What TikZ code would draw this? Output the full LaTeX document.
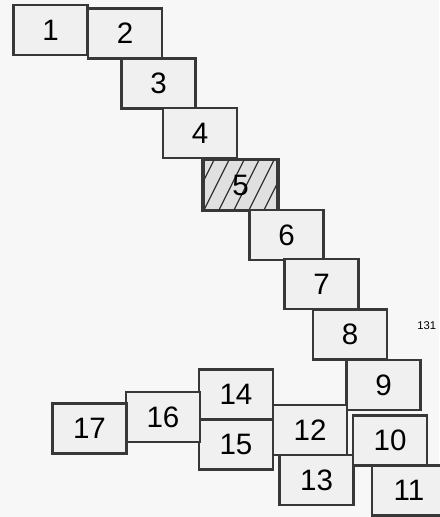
\documentclass[tikz,border=0pt]{standalone}
\usepackage{fontspec}
\setmainfont{Liberation Sans}
\tikzset{
  cell/.style={draw=black!78,fill=black!6,line width=1.6pt,minimum width=1.85cm,minimum height=1.25cm,inner sep=0pt,font=\fontsize{21}{23}\selectfont},
  hatchline/.style={black!80,line width=0.9pt}
}
\begin{document}
\begin{tikzpicture}[x=0.025cm,y=-0.025cm]
\fill[black!3] (0,0) rectangle (439,517);
\useasboundingbox (0,0) rectangle (439,517);
\node[cell] (n1) at (50.5,30) {1};
\node[cell] (n2) at (125,33.5) {2};
\node[cell] (n3) at (158.5,83.5) {3};
\node[cell] (n4) at (200,133) {4};
\node[cell,fill=black!12] (n5) at (240.5,185) {};
\begin{scope}
\clip (n5.south west) rectangle (n5.north east);
\foreach \i in {-30,-15,...,90}
  \draw[hatchline] (203+\i,212) -- ++(28,-56);
\end{scope}
\draw[black!78,line width=1.6pt] (n5.south west) rectangle (n5.north east);
\node[font=\fontsize{21}{23}\selectfont] (t5) at (n5.center) {5};
\node[cell] (n6) at (286.5,235) {6};
\node[cell] (n7) at (321.5,284) {7};
\node[cell] (n8) at (350,334.5) {8};
\node[cell] (n9) at (383.5,385) {9};
\node[cell] (n12) at (310,430) {12};
\node[cell] (n13) at (316.5,480) {13};
\node[cell] (n10) at (390,440.5) {10};
\node[cell] (n11) at (409,490.5) {11};
\node[cell] (n14) at (236,394.5) {14};
\node[cell] (n15) at (236,444.5) {15};
\node[cell] (n16) at (163,417) {16};
\node[cell] (n17) at (89.5,428.5) {17};
\node[anchor=west,inner sep=0pt,font=\fontsize{8}{9}\selectfont] (fig) at (417,326) {131};
\end{tikzpicture}
\end{document}
